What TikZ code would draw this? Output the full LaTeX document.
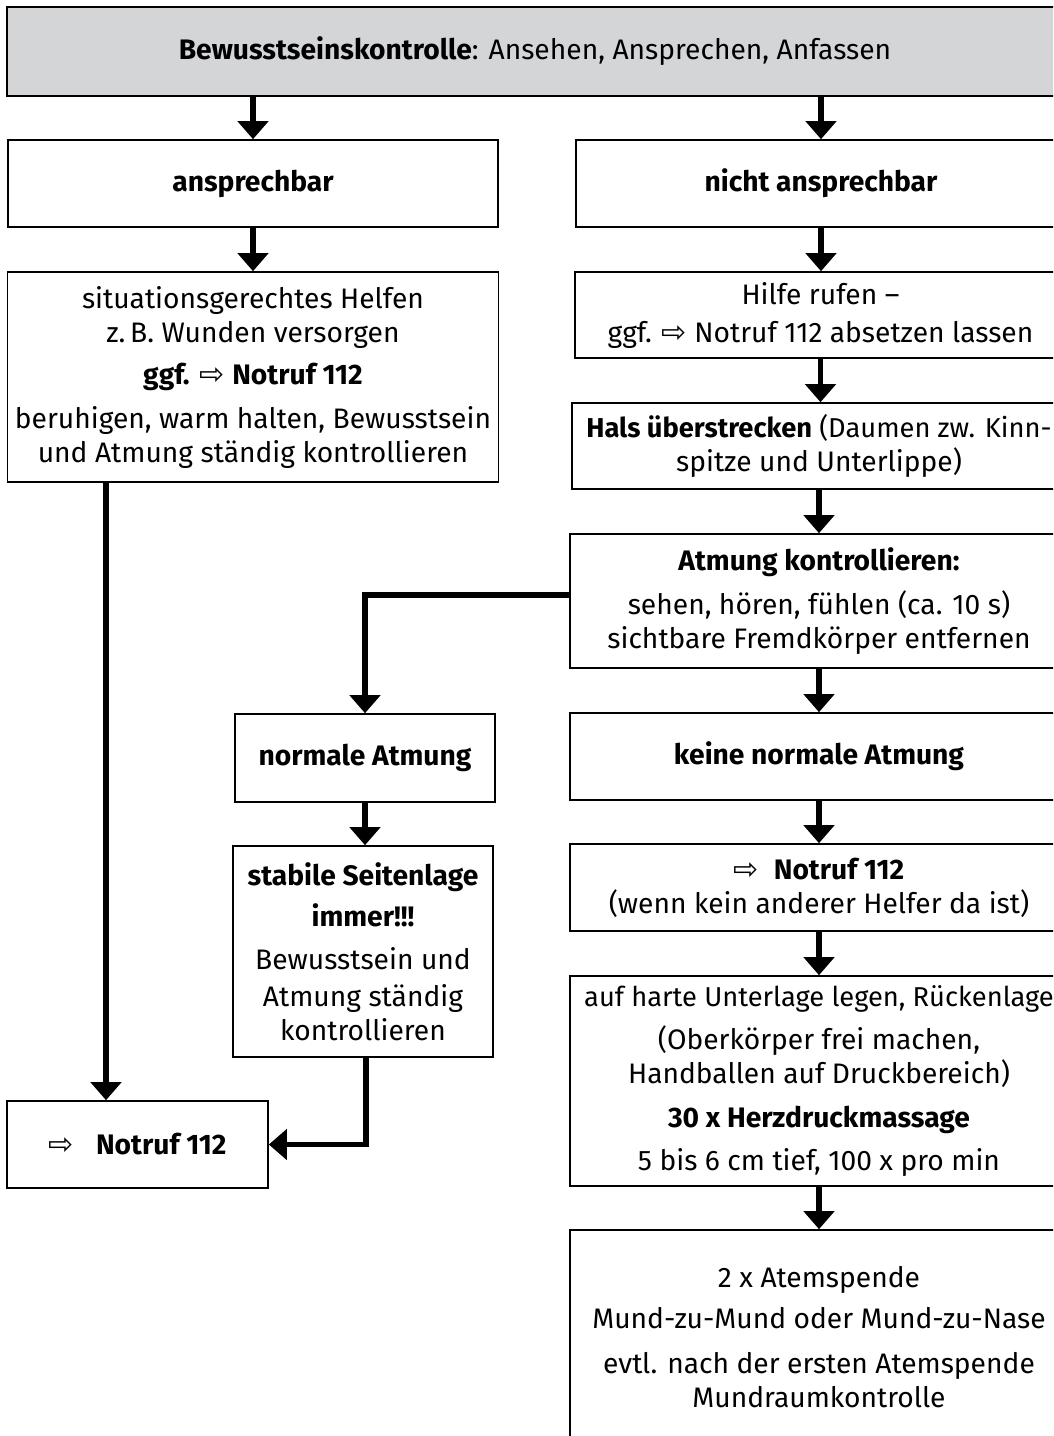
\documentclass[tikz,border=0pt]{standalone}
\usepackage{fontspec}
\setmainfont{Fira Sans}
\newfontfamily\symfont{DejaVu Sans}
\usetikzlibrary{arrows.meta}
\definecolor{headgray}{RGB}{212,213,215}
\newcommand{\wa}{{\symfont\fontsize{30}{30}\selectfont ⇨}}
\newcommand{\tight}{\fontsize{27.3}{34}\selectfont}
\begin{document}
\begin{tikzpicture}[x=1pt,y=-1pt,
  box/.style={draw=black, line width=1.6pt, rectangle, inner sep=0pt, align=center,
    font=\fontsize{28.2}{34}\selectfont},
  arr/.style={line width=5.5pt, -{Triangle[width=30pt,length=18pt]}}]
\useasboundingbox (0,0) rectangle (1053,1436);
\clip (0,0) rectangle (1053,1436);
\fill[white] (0,0) rectangle (1053,1436);

\node[box, fill=headgray, minimum width=1056pt, minimum height=89pt] (top) at (535,51.5)
  {\textbf{Bewusstseinskontrolle}: Ansehen, Ansprechen, Anfassen};

\node[box, minimum width=490pt, minimum height=87pt] (ans) at (253,183.5) {\textbf{ansprechbar}};
\node[box, minimum width=490pt, minimum height=87pt] (nans) at (821,183.5) {\textbf{nicht ansprechbar}};

\node[box, minimum width=491pt, minimum height=210pt] (sit) at (253,377)
  {situationsgerechtes Helfen\\ z.\,B. Wunden versorgen\\[8pt]
   \textbf{ggf.} \wa\ \textbf{Notruf 112}\\[10pt]
   beruhigen, warm halten, Bewusstsein\\ und Atmung ständig kontrollieren};

\node[box, minimum width=491pt, minimum height=86pt] (hilfe) at (820.5,315)
  {Hilfe rufen --\\[4pt] ggf. \wa\ Notruf 112 absetzen lassen};

\node[box, minimum width=494pt, minimum height=86pt] (hals) at (819,446)
  {\tight\textbf{Hals überstrecken} (Daumen zw. Kinn-\\ spitze und Unterlippe)};

\node[box, minimum width=498pt, minimum height=134pt] (atm) at (819,601)
  {\textbf{Atmung kontrollieren:}\\[10pt] sehen, hören, fühlen (ca. 10 s)\\ sichtbare Fremdkörper entfernen};

\node[box, minimum width=260pt, minimum height=88pt] (norm) at (365,758) {\textbf{normale Atmung}};
\node[box, minimum width=498pt, minimum height=87pt] (keine) at (819,756.5) {\textbf{keine normale Atmung}};

\node[box, minimum width=260pt, minimum height=211pt] (stab) at (363,951.5)
  {\textbf{stabile Seitenlage}\\[7pt] \textbf{immer!!!}\\[9pt] Bewusstsein und\\[3pt] Atmung ständig\\ kontrollieren};

\node[box, minimum width=498pt, minimum height=87pt] (notr2) at (819,887.5)
  {\wa\ \ \textbf{Notruf 112}\\ (wenn kein anderer Helfer da ist)};

\node[box, minimum width=261pt, minimum height=87pt] (notr1) at (137.5,1144.5)
  {\wa\ \ \ \textbf{Notruf 112}};

\node[box, minimum width=498pt, minimum height=210pt] (auf) at (819,1081)
  {{\tight auf harte Unterlage legen, Rückenlage}\\[9pt] (Oberkörper frei machen,\\ Handballen auf Druckbereich)\\[10pt]
   \textbf{30 x Herzdruckmassage}\\[9pt] 5 bis 6 cm tief, 100 x pro min};

\node[box, minimum width=498pt, minimum height=214pt] (last) at (819,1337)
  {2 x Atemspende\\[7pt] Mund-zu-Mund oder Mund-zu-Nase\\[11pt] evtl. nach der ersten Atemspende\\ Mundraumkontrolle};

\coordinate (lx) at (106,0);
\coordinate (ly) at (0,595);

% connectors
\draw[arr] (top.south -| ans.north) -- (ans.north);
\draw[arr] (top.south -| nans.north) -- (nans.north);
\draw[arr] (ans.south) -- (ans.south |- sit.north);
\draw[arr] (nans.south) -- (nans.south |- hilfe.north);
\draw[arr] (hilfe.south) -- (hilfe.south |- hals.north);
\draw[arr] (hals.south) -- (hals.south |- atm.north);
\draw[arr] (atm.south) -- (atm.south |- keine.north);
\draw[arr] (keine.south) -- (keine.south |- notr2.north);
\draw[arr] (notr2.south) -- (notr2.south |- auf.north);
\draw[arr] (auf.south) -- (auf.south |- last.north);
\draw[arr] (atm.west |- ly) -| (norm.north);
\draw[arr] (norm.south) -- (norm.south |- stab.north);
\draw[arr] (sit.south -| lx) -- (notr1.north -| lx);
\draw[arr] ([xshift=3pt]stab.south) |- (notr1.east);
\end{tikzpicture}
\end{document}
